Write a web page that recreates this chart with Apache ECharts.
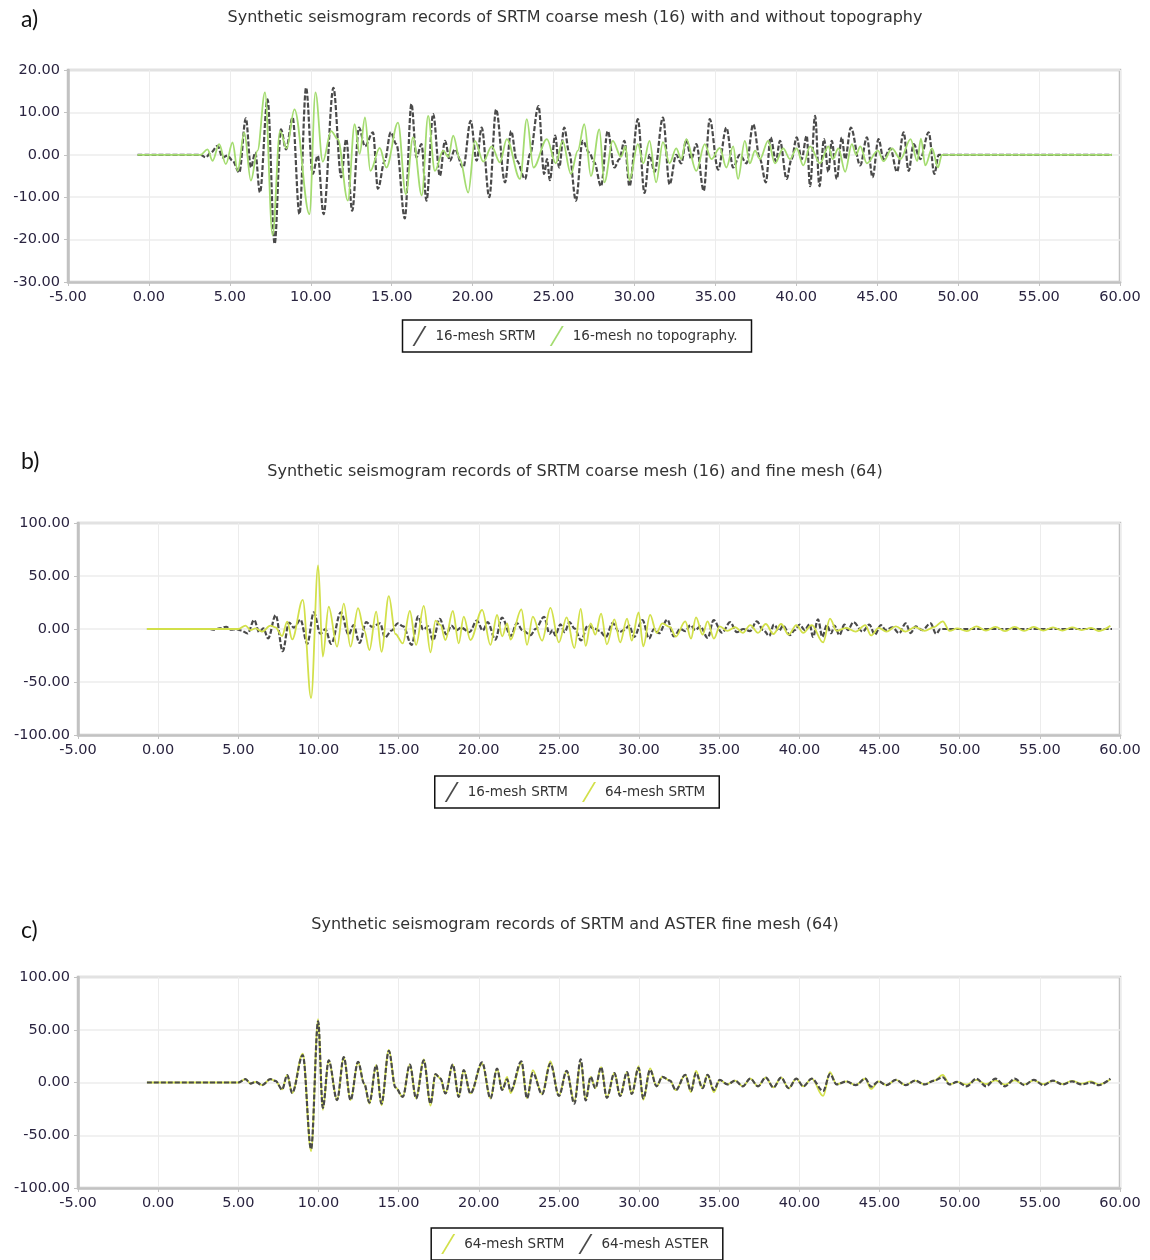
<!DOCTYPE html>
<html>
<head>
<meta charset="utf-8">
<script src="https://cdn.jsdelivr.net/npm/echarts@6/dist/echarts.min.js"></script>
<style>
  html, body { margin: 0; padding: 0; background: #fff; }
  #chart { width: 1150px; height: 1260px; }
</style>
</head>
<body>
<div id="chart"></div>
<script>
// time (s), amplitude, extrema only
const srtm16 = [
  [-0.7,0],[3.2,0],[3.51,-0.6],[3.82,0.5],[4.24,2.1],[4.55,-0.6],[4.86,-0.2],[5.17,-1.4],[5.58,-4.2],[5.99,8.6],
  [6.30,-3.0],[6.57,0.5],[6.86,-8.9],[7.33,13.1],[7.77,-21],[8.16,6],[8.47,1.3],[8.88,8.8],[9.30,-14],[9.71,15.8],
  [10.12,-4.5],[10.43,-0.2],[10.79,-14],[11.40,15.8],[11.88,-5.3],[12.19,3.7],[12.56,-13.2],[12.98,6.4],[13.35,2.0],[13.84,5.3],
  [14.15,-8],[14.57,-1.4],[14.94,5.3],[15.29,2.5],[15.81,-15],[16.22,12],[16.53,-0.6],[16.84,2.5],[17.15,-10.8],[17.56,9.6],
  [17.98,-5],[18.29,3.3],[18.60,-1.4],[18.90,1.3],[19.42,-3],[19.88,8],[20.25,-1.4],[20.56,6.4],[21.03,-10],[21.45,10.7],
  [22.00,-6.5],[22.38,5.6],[22.73,-1.4],[23.24,-5.7],[23.55,0.2],[24.07,11.5],[24.42,-4.5],[24.6,-1],[24.77,-6],[25.10,4.5],
  [25.35,-3],[25.66,6.4],[25.97,0.5],[26.38,-10.8],[26.80,3.3],[27.21,0.5],[27.52,-1.8],[27.93,-7.4],[28.35,5.6],[28.76,-3],
  [29.07,-1],[29.38,3.3],[29.69,-7.4],[30.21,8.4],[30.62,-9],[30.93,0],[31.24,-4],[31.76,8.8],[32.17,-7],[32.58,0],
  [32.89,-2],[33.20,3.5],[33.51,-1],[33.82,2.5],[34.28,-8.5],[34.65,8.4],[35.17,-3.5],[35.68,6.4],[36.10,-3],[36.51,0],
  [36.92,-2],[37.34,7.2],[37.75,-1],[38.12,-6.5],[38.41,4.1],[38.74,-1.5],[38.99,3.3],[39.40,-5.7],[39.71,-1],[40.02,4.1],
  [40.33,-1],[40.64,4.5],[40.85,-7.4],[41.16,9.2],[41.43,-7.4],[41.71,3.7],[41.98,-4],[42.19,3.3],[42.50,-5.7],[42.81,4.1],
  [43.02,-1],[43.37,6.4],[43.95,-2.5],[44.36,4.1],[44.71,-5.3],[45.08,3.7],[45.39,-1],[45.81,1.5],[46.22,-4],[46.63,5.3],
  [46.94,-3.8],[47.25,2.5],[47.66,-1],[48.18,5.3],[48.53,-4.5],[48.8,0],[59.5,0]
]
const noTopo16 = [
  [-0.7,0],[3.2,0],[3.62,1.3],[3.93,-1.4],[4.34,2.5],[4.75,-2.2],[5.17,2.9],[5.48,-3.8],[5.89,5.3],[6.30,-6.1],
  [6.71,1.0],[7.17,14.7],[7.64,-19],[8.10,5.6],[8.51,1.5],[8.99,10.7],[9.92,-14],[10.29,14.7],[10.74,-1.6],[11.26,5.6],
  [11.67,3.7],[12.29,-10.8],[12.71,7.2],[13.02,0.2],[13.35,8.8],[13.68,-3.8],[14.26,1.6],[14.67,-3],[15.39,7.6],[15.87,-9.3],
  [16.32,4.1],[16.86,-9.6],[17.25,9.2],[17.67,-3.8],[18.18,1.0],[18.50,-0.5],[18.80,4.5],[19.21,-1.0],[19.73,-8.9],[20.14,3.3],
  [20.66,-1.6],[21.18,2.0],[21.69,-1.8],[22.11,3.7],[22.93,-5.7],[23.35,8.4],[23.76,-3],[24.59,3.7],[25.14,-2],[25.56,3.3],
  [26.07,-4.5],[26.50,1],[26.90,7.2],[27.31,-5],[27.83,6.0],[28.14,-6.5],[28.66,3.3],[29.17,-0.5],[29.45,2],[29.69,-6],
  [30.21,2.5],[30.55,-2],[30.93,3.3],[31.34,-6.5],[31.76,3],[32.17,-2],[32.58,1.5],[32.89,-1],[33.20,3.7],[33.82,-3.8],
  [34.34,2.5],[34.75,-1],[35.27,1.6],[35.68,-3],[36.10,2],[36.40,-5.7],[36.82,3.3],[37.13,-2],[37.45,1],[37.75,-1],
  [38.26,3.3],[38.68,-2],[39.19,1.5],[39.61,-1],[40.02,1.5],[40.43,-2.5],[40.85,2],[41.47,-2],[41.98,2],[42.25,-1],
  [42.6,1.5],[43.02,-4],[43.43,2.5],[43.7,0],[43.95,2],[44.36,-2],[45.04,1],[45.39,-1.5],[45.91,1.5],[46.44,-1],
  [47.06,3.7],[47.47,-1.5],[47.7,3.8],[47.97,-2.5],[48.39,1.5],[48.75,-3],[49.0,0],[59.5,0]
]
const srtm64 = [
  [-0.7,0],[5.0,0],[5.45,3.2],[5.76,-1],[6.07,0.6],[6.49,-2.5],[7.0,3.2],[7.32,1.6],[7.73,-6.6],[8.05,7],
  [8.36,-9.8],[9.02,27.4],[9.54,-65],[9.98,60],[10.27,-26],[10.64,21],[11.16,-16.7],[11.58,24],[12.0,-16.7],[12.47,19.6],
  [12.85,-1],[13.18,-20],[13.6,16.4],[13.93,-21.5],[14.39,31],[14.8,-4.7],[15.26,-13.6],[15.70,17],[16.09,-15],[16.57,21.8],
  [16.99,-22],[17.30,7.9],[17.61,3.8],[17.92,-10.4],[18.38,17],[18.75,-13.6],[19.06,11.7],[19.48,-10.4],[20.21,18],[20.73,-15],
  [21.14,13.2],[21.46,-7],[21.77,5.4],[21.98,-10],[22.66,18.6],[23.01,-15],[23.37,11.7],[23.95,-11],[24.47,20],[25.0,-12.7],
  [25.48,11],[25.96,-18],[26.36,19],[26.67,-16],[26.98,5.4],[27.27,-5.4],[27.63,14.5],[27.99,-14.5],[28.46,9],[28.82,-12.7],
  [29.25,9.8],[29.54,-10.9],[29.97,15.6],[30.26,-16.3],[30.69,13.4],[31.09,-3.6],[31.45,5.4],[31.93,1.8],[32.29,-7.2],[32.88,7.2],
  [33.24,-9],[33.55,10.9],[33.96,-5.4],[34.27,7.2],[34.67,-9],[35.03,2.5],[35.51,-1.8],[35.99,1.8],[36.47,-3.6],[36.94,3.6],
  [37.42,-3.6],[37.9,4.7],[38.38,-4.7],[38.86,4.7],[39.33,-5.4],[39.81,3.6],[40.24,-3.6],[40.77,3.6],[41.48,-12.7],[41.91,9.8],
  [42.32,-1.8],[42.92,1],[43.51,-2.5],[44.11,3.6],[44.47,-6.1],[44.95,1],[45.43,-2.5],[46.02,2.5],[46.62,-2.5],[47.22,1.8],
  [47.81,-1.8],[48.41,1.8],[48.94,7.2],[49.37,-1.8],[49.84,0.5],[50.44,-2],[51.04,2.5],[51.64,-1.5],[52.23,2],[52.83,-2],
  [53.43,2],[54.02,-1.8],[54.62,2],[55.22,-1.5],[55.82,1.5],[56.41,-1.5],[57.01,1.5],[57.61,-1],[58.2,1],[58.68,-2],[59.4,3]
]
const aster64 = [
  [-0.7,0],[5.0,0],[5.45,3.2],[5.76,-1],[6.07,0.6],[6.49,-2.5],[7.0,3.2],[7.32,1.6],[7.73,-6.6],[8.05,7],
  [8.36,-9.8],[9.02,26],[9.54,-63],[9.98,58],[10.27,-24],[10.64,21],[11.16,-16.7],[11.58,24],[12.0,-16.7],[12.47,19.6],
  [12.85,-1],[13.18,-19],[13.6,16.4],[13.93,-20],[14.39,30],[14.8,-4.7],[15.26,-13.6],[15.70,17],[16.09,-15],[16.57,21],
  [16.99,-20],[17.30,7.9],[17.61,3.8],[17.92,-10.4],[18.38,17],[18.75,-13.6],[19.06,11.7],[19.48,-10.4],[20.21,19],[20.73,-15],
  [21.14,13.2],[21.46,-7],[21.77,3],[21.98,-8],[22.66,20],[23.01,-15],[23.37,9],[23.95,-11],[24.47,18],[25.0,-12.7],
  [25.48,11],[25.96,-20],[26.36,22],[26.67,-17],[26.98,5.4],[27.27,-5.4],[27.63,14.5],[27.99,-14.5],[28.46,9],[28.82,-12.7],
  [29.25,9.8],[29.54,-10.9],[29.97,14],[30.26,-15],[30.69,12],[31.09,-3.6],[31.45,5.4],[31.93,1.8],[32.29,-7.2],[32.88,7.2],
  [33.24,-8],[33.55,9],[33.96,-5.4],[34.27,7.2],[34.67,-7],[35.03,2.5],[35.51,-1.8],[35.99,1.8],[36.47,-3.6],[36.94,3.6],
  [37.42,-3.6],[37.9,4.7],[38.38,-4.7],[38.86,4.7],[39.33,-5.4],[39.81,3.6],[40.24,-3.6],[40.77,3.6],[41.48,-8],[41.91,8],
  [42.32,-1.8],[42.92,1],[43.51,-2.5],[44.11,3.6],[44.47,-4],[44.95,1],[45.43,-2.5],[46.02,2.5],[46.62,-2.5],[47.22,1.8],
  [47.81,-1.8],[48.41,1.8],[48.94,5],[49.37,-1.8],[49.84,0.5],[50.44,-3.6],[51.04,3.6],[51.64,-3.6],[52.23,3.6],[52.83,-3.6],
  [53.43,3.6],[54.02,-2.5],[54.62,2.5],[55.22,-2.5],[55.82,1.8],[56.41,-1.8],[57.01,1],[57.61,-1.8],[58.2,0],[58.68,-2.5],[59.4,3.6]
]
const titles = [
  'Synthetic seismogram records of SRTM coarse mesh (16) with and without topography',
  'Synthetic seismogram records of SRTM coarse mesh (16) and fine mesh (64)',
  'Synthetic seismogram records of SRTM and ASTER fine mesh (64)'
]
const panelLabels = ['a)', 'b)', 'c)']
const yRanges = [[-30, 20, 10], [-100, 100, 50], [-100, 100, 50]]

const FONT = 'DejaVu Sans'
const GRAY = '#4a4a4a'
const GREEN = '#a4dc70'
const YELLOW = '#d2e04a'
const AXIS = '#c2c2c2'
const SLASH = 'path://M0,20 L2,20 L14,0 L12,0 Z'

const grids = [
  { left: 68, top: 70, width: 1052, height: 212 },
  { left: 78, top: 523, width: 1042, height: 212 },
  { left: 78, top: 977, width: 1042, height: 211 }
]
const titleTops = [5, 459, 912]
const labelTops = [8, 450, 919]
const legendTops = [320, 776, 1228]

var myChart = echarts.init(document.getElementById('chart'))

function xAxisFor(i) {
  return {
    type: 'value', gridIndex: i, min: -5, max: 60, interval: 5,
    axisLine: { show: true, onZero: false, lineStyle: { color: AXIS, width: 2.5 } },
    axisTick: { show: true, length: 4, lineStyle: { color: AXIS } },
    axisLabel: { margin: 8, color: '#2a2440', fontFamily: FONT, fontSize: 14.5, formatter: v => v.toFixed(2) },
    splitLine: { show: true, lineStyle: { color: '#ececec', width: 1 } }
  }
}
function yAxisFor(i) {
  return {
    type: 'value', gridIndex: i, min: yRanges[i][0], max: yRanges[i][1], interval: yRanges[i][2],
    axisLine: { show: true, onZero: false, lineStyle: { color: AXIS, width: 2.5 } },
    axisTick: { show: true, length: 4, lineStyle: { color: AXIS } },
    axisLabel: { margin: 8, color: '#2a2440', fontFamily: FONT, fontSize: 14.5, formatter: v => v.toFixed(2) },
    splitLine: { show: true, lineStyle: { color: '#ececec', width: 1.5 } }
  }
}
function lineSeries(name, data, i, color, dashed) {
  return {
    name: name, type: 'line', xAxisIndex: i, yAxisIndex: i, data: data,
    smooth: 0.35, smoothMonotone: 'x', showSymbol: false, animation: false, color: color,
    lineStyle: { color: color, width: dashed ? 2.2 : 1.8, type: dashed ? [5, 2] : 'solid' }
  }
}
function legendFor(i, items) {
  return {
    top: legendTops[i], left: 'center', icon: SLASH, itemWidth: 14, itemHeight: 20, itemGap: 14,
    padding: [6, 14, 6, 10], borderColor: '#111', borderWidth: 1.5, backgroundColor: '#fff',
    textStyle: { fontFamily: FONT, fontSize: 13.5, color: '#333', padding: [0, 0, 0, 4] },
    itemStyle: { borderWidth: 0 },
    data: items.map(it => ({ name: it[0], itemStyle: { color: it[1], borderWidth: 0 } }))
  }
}

var option = {
  backgroundColor: '#fff',
  animation: false,
  title: titles.map((t, i) => ({
    text: t, left: 'center', top: titleTops[i],
    textStyle: { fontFamily: FONT, fontSize: 16, fontWeight: 'normal', color: '#333' }
  })),
  graphic: panelLabels.map((t, i) => ({
    type: 'text', left: 21, top: labelTops[i],
    style: { text: t, font: '23px Lato', fill: '#111' }
  })),
  grid: grids.map(g => Object.assign({ show: true, borderColor: AXIS, borderWidth: 2.5, backgroundColor: '#fff' }, g)),
  xAxis: [0, 1, 2].map(xAxisFor),
  yAxis: [0, 1, 2].map(yAxisFor),
  legend: [
    legendFor(0, [['16-mesh SRTM', GRAY], ['16-mesh no topography.', GREEN]]),
    legendFor(1, [['16-mesh SRTM', GRAY], ['64-mesh SRTM', YELLOW]]),
    legendFor(2, [['64-mesh SRTM', YELLOW], ['64-mesh ASTER', GRAY]])
  ],
  series: [
    lineSeries('16-mesh SRTM', srtm16, 0, GRAY, true),
    lineSeries('16-mesh no topography.', noTopo16, 0, GREEN, false),
    lineSeries('16-mesh SRTM', srtm16, 1, GRAY, true),
    lineSeries('64-mesh SRTM', srtm64, 1, YELLOW, false),
    lineSeries('64-mesh SRTM', srtm64, 2, YELLOW, false),
    lineSeries('64-mesh ASTER', aster64, 2, GRAY, true)
  ]
}

option && myChart.setOption(option)
</script>
</body>
</html>
